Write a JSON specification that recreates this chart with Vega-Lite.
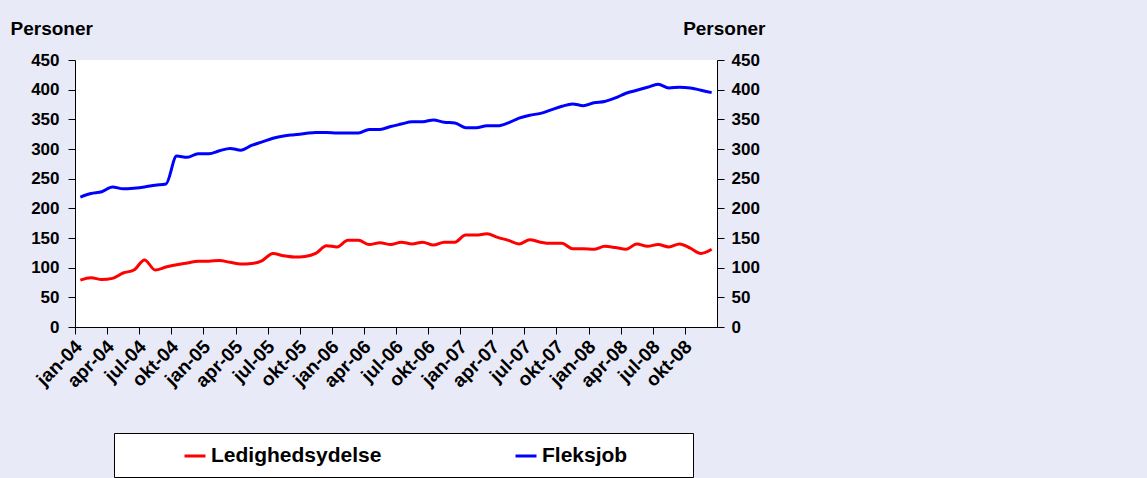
{
  "$schema": "https://vega.github.io/schema/vega-lite/v6.json",
  "autosize": "none",
  "padding": {"left": 75, "top": 60, "right": 430, "bottom": 151},
  "width": 642,
  "height": 267,
  "background": "#E8EAF8",
  "data": {"values": [
    {"m": "jan-04", "Ledighedsydelse": 79, "Fleksjob": 219},
    {"m": "feb-04", "Ledighedsydelse": 83, "Fleksjob": 225},
    {"m": "mar-04", "Ledighedsydelse": 80, "Fleksjob": 228},
    {"m": "apr-04", "Ledighedsydelse": 82, "Fleksjob": 236},
    {"m": "maj-04", "Ledighedsydelse": 91, "Fleksjob": 233},
    {"m": "jun-04", "Ledighedsydelse": 96, "Fleksjob": 234},
    {"m": "jul-04", "Ledighedsydelse": 113, "Fleksjob": 236},
    {"m": "aug-04", "Ledighedsydelse": 96, "Fleksjob": 239},
    {"m": "sep-04", "Ledighedsydelse": 101, "Fleksjob": 241},
    {"m": "okt-04", "Ledighedsydelse": 105, "Fleksjob": 288},
    {"m": "nov-04", "Ledighedsydelse": 108, "Fleksjob": 286},
    {"m": "dec-04", "Ledighedsydelse": 111, "Fleksjob": 292},
    {"m": "jan-05", "Ledighedsydelse": 111, "Fleksjob": 292},
    {"m": "feb-05", "Ledighedsydelse": 112, "Fleksjob": 297},
    {"m": "mar-05", "Ledighedsydelse": 109, "Fleksjob": 301},
    {"m": "apr-05", "Ledighedsydelse": 106, "Fleksjob": 298},
    {"m": "maj-05", "Ledighedsydelse": 107, "Fleksjob": 306},
    {"m": "jun-05", "Ledighedsydelse": 112, "Fleksjob": 312},
    {"m": "jul-05", "Ledighedsydelse": 124, "Fleksjob": 318},
    {"m": "aug-05", "Ledighedsydelse": 120, "Fleksjob": 322},
    {"m": "sep-05", "Ledighedsydelse": 118, "Fleksjob": 324},
    {"m": "okt-05", "Ledighedsydelse": 119, "Fleksjob": 326},
    {"m": "nov-05", "Ledighedsydelse": 124, "Fleksjob": 328},
    {"m": "dec-05", "Ledighedsydelse": 137, "Fleksjob": 328},
    {"m": "jan-06", "Ledighedsydelse": 135, "Fleksjob": 327},
    {"m": "feb-06", "Ledighedsydelse": 146, "Fleksjob": 327},
    {"m": "mar-06", "Ledighedsydelse": 146, "Fleksjob": 327},
    {"m": "apr-06", "Ledighedsydelse": 139, "Fleksjob": 333},
    {"m": "maj-06", "Ledighedsydelse": 142, "Fleksjob": 333},
    {"m": "jun-06", "Ledighedsydelse": 139, "Fleksjob": 338},
    {"m": "jul-06", "Ledighedsydelse": 143, "Fleksjob": 342},
    {"m": "aug-06", "Ledighedsydelse": 140, "Fleksjob": 346},
    {"m": "sep-06", "Ledighedsydelse": 143, "Fleksjob": 346},
    {"m": "okt-06", "Ledighedsydelse": 138, "Fleksjob": 349},
    {"m": "nov-06", "Ledighedsydelse": 143, "Fleksjob": 345},
    {"m": "dec-06", "Ledighedsydelse": 143, "Fleksjob": 344},
    {"m": "jan-07", "Ledighedsydelse": 155, "Fleksjob": 336},
    {"m": "feb-07", "Ledighedsydelse": 155, "Fleksjob": 336},
    {"m": "mar-07", "Ledighedsydelse": 157, "Fleksjob": 339},
    {"m": "apr-07", "Ledighedsydelse": 151, "Fleksjob": 339},
    {"m": "maj-07", "Ledighedsydelse": 146, "Fleksjob": 344},
    {"m": "jun-07", "Ledighedsydelse": 140, "Fleksjob": 352},
    {"m": "jul-07", "Ledighedsydelse": 147, "Fleksjob": 357},
    {"m": "aug-07", "Ledighedsydelse": 143, "Fleksjob": 360},
    {"m": "sep-07", "Ledighedsydelse": 141, "Fleksjob": 366},
    {"m": "okt-07", "Ledighedsydelse": 141, "Fleksjob": 372},
    {"m": "nov-07", "Ledighedsydelse": 132, "Fleksjob": 376},
    {"m": "dec-07", "Ledighedsydelse": 132, "Fleksjob": 373},
    {"m": "jan-08", "Ledighedsydelse": 131, "Fleksjob": 378},
    {"m": "feb-08", "Ledighedsydelse": 136, "Fleksjob": 380},
    {"m": "mar-08", "Ledighedsydelse": 134, "Fleksjob": 386},
    {"m": "apr-08", "Ledighedsydelse": 131, "Fleksjob": 394},
    {"m": "maj-08", "Ledighedsydelse": 140, "Fleksjob": 399},
    {"m": "jun-08", "Ledighedsydelse": 136, "Fleksjob": 404},
    {"m": "jul-08", "Ledighedsydelse": 139, "Fleksjob": 409},
    {"m": "aug-08", "Ledighedsydelse": 135, "Fleksjob": 403},
    {"m": "sep-08", "Ledighedsydelse": 140, "Fleksjob": 404},
    {"m": "okt-08", "Ledighedsydelse": 133, "Fleksjob": 403},
    {"m": "nov-08", "Ledighedsydelse": 124, "Fleksjob": 399},
    {"m": "dec-08", "Ledighedsydelse": 131, "Fleksjob": 395}
  ]},
  "transform": [{"fold": ["Ledighedsydelse", "Fleksjob"], "as": ["serie", "personer"]}],
  "encoding": {
    "x": {
      "field": "m", "type": "ordinal", "sort": null, "title": null,
      "scale": {"type": "point", "padding": 0.5},
      "axis": {
        "values": ["jan-04","apr-04","jul-04","okt-04","jan-05","apr-05","jul-05","okt-05","jan-06","apr-06","jul-06","okt-06","jan-07","apr-07","jul-07","okt-07","jan-08","apr-08","jul-08","okt-08"],
        "labelAngle": -45, "tickOffset": -5.35, "labelOffset": -3,
        "tickSize": 7, "labelPadding": 3, "labelFontSize": 19
      }
    }
  },
  "layer": [
    {
      "mark": {"type": "line", "strokeWidth": 3, "interpolate": "monotone"},
      "encoding": {
        "y": {
          "field": "personer", "type": "quantitative",
          "scale": {"domain": [0, 450], "nice": false},
          "axis": {
            "orient": "left", "values": [0,50,100,150,200,250,300,350,400,450],
            "title": "Personer", "titleAngle": 0, "titleAlign": "left", "titleBaseline": "alphabetic",
            "titleX": -65, "titleY": -26, "labelPadding": 9
          }
        },
        "color": {
          "field": "serie", "type": "nominal",
          "scale": {"domain": ["Ledighedsydelse", "Fleksjob"], "range": ["#FF0000", "#0000FF"]},
          "legend": {
            "orient": "none", "legendX": 39, "legendY": 373, "direction": "horizontal",
            "title": " ", "titleOrient": "right", "titlePadding": 55, "titleFontSize": 10,
            "fillColor": "white", "strokeColor": "black", "padding": 11,
            "symbolType": "stroke", "symbolSize": 441, "symbolStrokeWidth": 3,
            "symbolOffset": 58, "columnPadding": 74,
            "labelFontSize": 21, "labelFont": "Liberation Sans", "labelFontWeight": "bold", "labelColor": "black", "labelLimit": 400
          }
        }
      }
    },
    {
      "mark": {"type": "line", "opacity": 0},
      "encoding": {
        "detail": {"field": "serie"},
        "y": {
          "field": "personer", "type": "quantitative",
          "scale": {"domain": [0, 450], "nice": false},
          "axis": {
            "orient": "right", "values": [0,50,100,150,200,250,300,350,400,450],
            "title": "Personer", "titleAngle": 0, "titleAlign": "right", "titleBaseline": "alphabetic",
            "titleX": 48, "titleY": -26, "labelPadding": 7
          }
        }
      }
    }
  ],
  "resolve": {"scale": {"y": "independent"}},
  "config": {
    "view": {"fill": "white", "stroke": null},
    "axis": {
      "grid": false, "domainColor": "black", "domainWidth": 1, "tickColor": "black", "tickSize": 7,
      "labelFont": "Liberation Sans", "labelFontWeight": "bold", "labelFontSize": 17, "labelColor": "black",
      "titleFont": "Liberation Sans", "titleFontWeight": "bold", "titleFontSize": 19, "titleColor": "black"
    }
  }
}
